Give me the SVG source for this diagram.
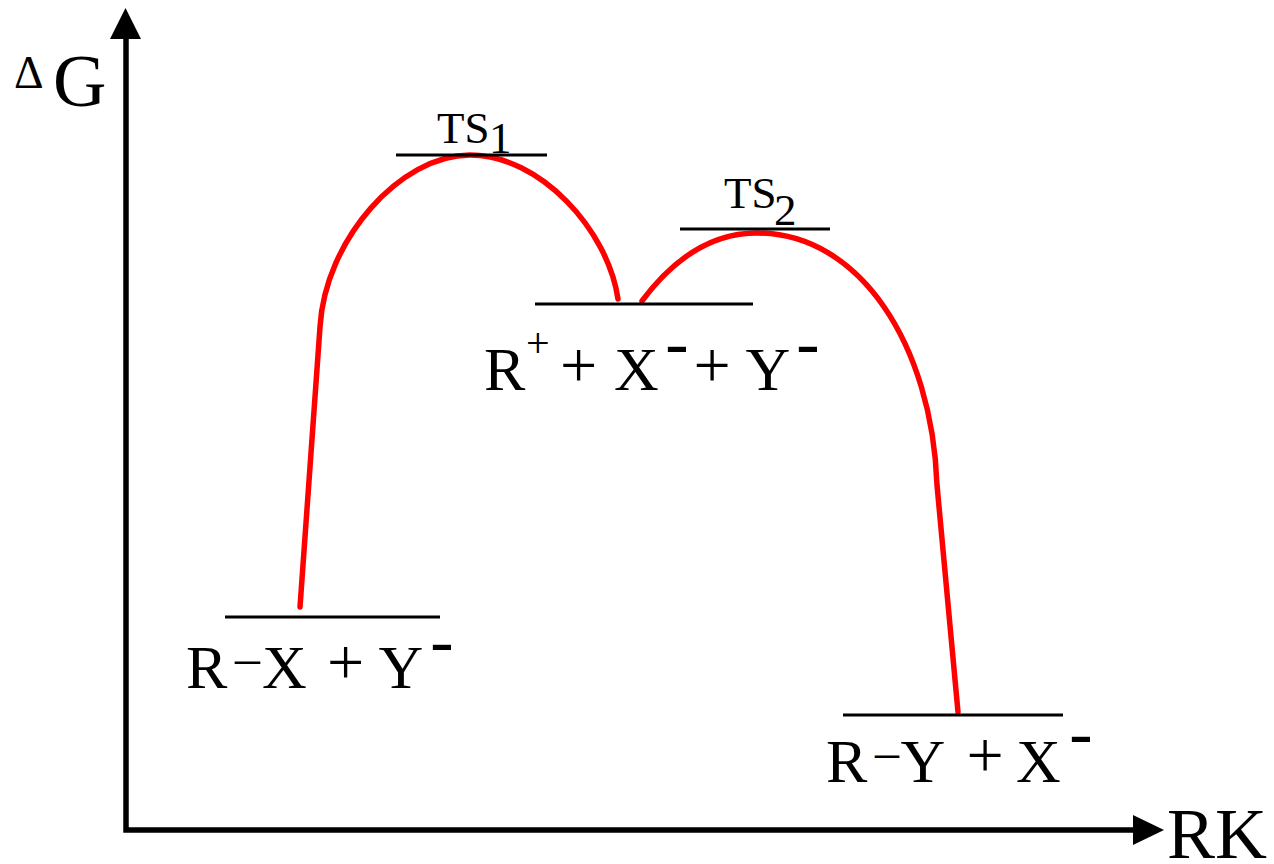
<svg xmlns="http://www.w3.org/2000/svg" width="1274" height="864" viewBox="0 0 1274 864">
<style>
text{font-family:"Liberation Serif","Times New Roman",serif;fill:#000}
.lvl{stroke:#000;stroke-width:3;fill:none}
.axis{stroke:#000;stroke-width:5.5;fill:none}
.curve{stroke:#ff0000;stroke-width:5.5;fill:none;stroke-linecap:round;stroke-linejoin:round}
.big{font-size:62px}
.plus{font-size:66px}
.dash{font-size:70px}
.ts{font-size:45px}
</style>
<rect width="1274" height="864" fill="#fff"/>
<g id="axes">
<polyline class="axis" points="126,36 126,830 1136,830"/>
<polygon points="125.5,8 110,39 141,39" fill="#000"/>
<polygon points="1164,830 1133,815 1133,845" fill="#000"/>
<text x="14" y="88" style="font-size:46px">Δ</text>
<text x="53" y="106" style="font-size:74px">G</text>
<text x="1167" y="858" style="font-size:72px">RK</text>
</g>
<g id="connectors">
<path class="curve" d="M300,607 L320,327 C325,240 400,155 470,155 C540,155 608,230 618,299"/>
<path class="curve" d="M642,301 C680,250 720,233 757,233 C860,233 932,345 937,485 L958,712"/>
</g>
<g id="ts1">
<line class="lvl" x1="396" y1="155" x2="547" y2="155"/>
<text class="ts" x="437" y="143">TS<tspan x="489" y="153">1</tspan></text>
</g>
<g id="ts2">
<line class="lvl" x1="680" y1="229" x2="830" y2="229"/>
<text class="ts" x="724" y="208">TS<tspan x="774" y="225">2</tspan></text>
</g>
<g id="intermediate">
<line class="lvl" x1="535" y1="304" x2="753" y2="304"/>
<text class="big" x="484" y="390">R</text>
<text x="526" y="357" style="font-size:42px">+</text>
<text class="plus" x="560" y="387">+</text>
<text class="big" x="614" y="390">X</text>
<text class="dash" x="665.3" y="366">-</text>
<text class="plus" x="693.4" y="387">+</text>
<text class="big" x="745.6" y="390">Y</text>
<text class="dash" x="796.3" y="366">-</text>
</g>
<g id="reactants">
<line class="lvl" x1="225" y1="617" x2="440" y2="617"/>
<text class="big" x="186" y="688">R</text>
<text x="235" y="675" style="font-size:50px">–</text>
<text class="big" x="262" y="688">X</text>
<text class="plus" x="327" y="684">+</text>
<text class="big" x="378.6" y="688">Y</text>
<text class="dash" x="430.3" y="664">-</text>
</g>
<g id="products">
<line class="lvl" x1="843" y1="715" x2="1063" y2="715"/>
<text class="big" x="826" y="782">R</text>
<text x="875" y="768" style="font-size:48px">–</text>
<text class="big" x="900.6" y="782">Y</text>
<text class="plus" x="966.4" y="777">+</text>
<text class="big" x="1016" y="782">X</text>
<text class="dash" x="1069.3" y="756">-</text>
</g>
</svg>
